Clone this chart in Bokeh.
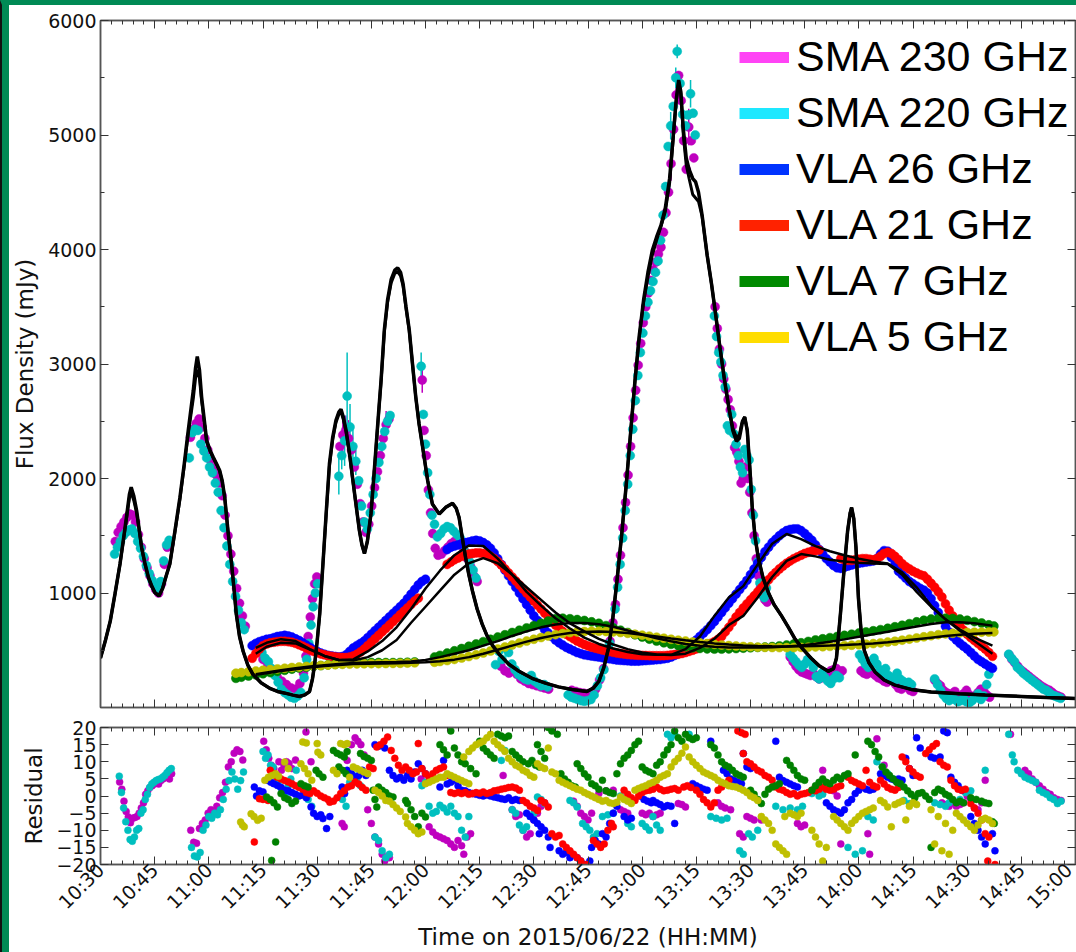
import math
from bokeh.plotting import figure
from bokeh.models import Range1d, FixedTicker, LinearAxis, Legend, LegendItem, CustomLabelingPolicy
from bokeh.layouts import column
from bokeh.embed import file_html
from bokeh.resources import INLINE

# ---------------- axis definitions (minutes after 10:30) ----------------
x_tick_pos = [0, 15, 30, 45, 60, 75, 90, 105, 120, 135, 150, 165, 180, 195, 210, 225, 240, 255, 270]
x_tick_labels = ["10:30", "10:45", "11:00", "11:15", "11:30", "11:45", "12:00", "12:15", "12:30",
                 "12:45", "13:00", "13:15", "13:30", "13:45", "14:00", "14:15", "14:30", "14:45", "15:00"]
flux_ticks = [1000, 2000, 3000, 4000, 5000, 6000]
flux_minor = [500, 1500, 2500, 3500, 4500, 5500]
res_ticks = [-20, -15, -10, -5, 0, 5, 10, 15, 20]
res_tick_labels = ["\u221220", "\u221215", "\u221210", "\u22125", "0", "5", "10", "15", "20"]
legend_labels = ["SMA 230 GHz", "SMA 220 GHz", "VLA 26 GHz", "VLA 21 GHz", "VLA 7 GHz", "VLA 5 GHz"]

# ---------------- SMA data (time [min], flux [mJy]) ----------------
sma230 = [
(4.1,1450),(4.9,1530),(5.7,1580),(6.5,1620),(7.3,1660),(8.1,1690),(8.9,1680),(9.7,1620),(10.5,1510),(11.3,1400),
(12.1,1300),(12.9,1220),(13.7,1150),(14.5,1080),(15.3,1030),(16.1,1000),(16.9,1080),(17.7,1250),(18.5,1400),(19.2,1430),
(24.9,2360),(25.7,2430),(26.5,2480),(27.3,2520),(28.1,2450),(28.9,2350),(29.7,2250),(30.5,2160),(31.3,2090),(32.1,2030),
(32.9,1960),(33.7,1850),(34.5,1680),(35.3,1500),(36.1,1340),(36.9,1190),(37.7,1040),(38.5,910),(39.3,800),(40.1,710),
(45.0,420),(46.3,380),(47.6,330),(48.9,270),(50.2,230),(51.5,200),(52.8,170),(54.1,160),(55.2,210),(56.2,300),
(56.9,450),(57.5,620),(58.1,790),(58.7,950),(59.3,1080),(59.9,1140),
(66.3,2280),(67.1,2380),(67.9,2420),(68.7,2350),(69.5,2250),(70.3,2100),(71.1,1950),(71.9,1780),(72.7,1620),(73.5,1530),
(74.3,1600),(75.1,1760),(75.9,1920),(76.7,2060),(77.5,2200),(78.3,2350),(79.1,2470),(79.9,2520),
(89.1,2860),(89.6,2420),(90.2,2200),(90.8,1900),(91.4,1700),(92.0,1520),(92.7,1390),(93.5,1330),(94.4,1340),(95.3,1370),
(96.2,1400),(97.1,1430),(98.0,1450),(98.9,1450),(99.8,1420),(100.7,1370),(101.6,1300),(102.5,1230),(103.4,1150),(104.3,1100),
(110.9,360),(112.0,320),(113.1,300),(114.2,330),(115.3,290),(116.4,250),(117.5,230),(118.6,210),(119.7,200),(120.8,190),
(121.9,180),(123.0,170),(124.1,160),(130.5,150),(131.6,140),(132.7,130),(133.8,125),(134.9,120),(136.0,130),(137.1,160),
(138.2,240),(139.3,340),(140.3,470),(141.1,580),(141.9,740),(142.6,900),(143.3,1120),
(144.0,1330),(144.7,1570),(145.4,1790),(146.1,2030),(146.8,2280),(147.5,2530),(148.2,2770),(148.9,2990),(149.6,3180),(150.3,3360),
(151.0,3500),(151.7,3620),(152.4,3730),(153.1,3820),(153.8,3890),(154.5,3960),(155.2,4020),(155.9,4150),(156.6,4320),(157.3,4500),
(158.0,4750),(158.7,5050),(159.4,5350),(160.1,5520),(160.8,5300),(161.5,4950),(162.2,4700),(162.9,5070),(163.6,4950),(164.3,4800),
(170.2,3500),(170.8,3310),(171.4,3130),(172.0,3000),(172.6,2870),(173.2,2780),(173.8,2690),(174.4,2600),(175.0,2460),(175.6,2270),
(176.2,2230),(176.8,2150),(177.4,1960),(178.0,2000),(178.6,2100),(179.2,2000),(179.8,1880),(180.4,1700),(181.0,1500),(181.6,1300),
(182.2,1150),(182.8,1050),(183.4,980),(184.0,940),(184.6,920),
(191.0,440),(191.8,400),(192.6,360),(193.4,330),(194.2,310),(195.0,300),(195.8,290),(196.6,280),(197.4,300),(198.2,270),
(199.0,250),(199.8,260),(200.6,280),(201.4,300),(202.2,320),(203.0,330),(203.8,340),(204.6,300),(205.4,320),
(210.6,320),(211.4,300),(212.2,290),(213.0,330),(213.8,300),(214.6,280),(215.4,260),(216.2,250),(217.0,230),(217.8,220),
(218.6,250),(219.4,240),(220.2,200),(221.0,170),(221.8,160),(222.6,200),(223.4,180),(224.2,150),(225.0,140),
(231.0,240),(231.8,210),(232.6,190),(233.4,150),(234.2,130),(235.0,120),(235.8,110),(236.6,140),(237.4,100),(238.2,90),
(239.0,120),(239.8,150),(240.6,110),(241.4,80),(242.2,100),(243.0,130),(243.8,160),(244.6,140),(245.4,110),(246.2,90),
(251.6,460),(252.4,420),(253.2,390),(254.0,360),(254.8,330),(255.6,310),(256.4,290),(257.2,270),(258.0,250),(258.8,230),
(259.6,210),(260.4,190),(261.2,175),(262.0,160),(262.8,150),(263.6,130),(264.4,110),(265.2,100),(266.0,90),
]
sma220 = [
(3.9,1340),(4.7,1400),(5.5,1450),(6.3,1500),(7.1,1530),(7.9,1550),(8.7,1560),(9.5,1520),(10.3,1450),(11.1,1390),
(11.9,1320),(12.7,1240),(13.5,1170),(14.3,1110),(15.1,1060),(15.9,1040),(16.7,1100),(17.5,1280),(18.3,1420),(19.0,1460),
(24.6,2180),(25.4,2400),(26.2,2430),(27.0,2420),(27.8,2300),(28.6,2240),(29.4,2180),(30.2,2100),(31.0,2050),(31.8,1960),
(32.6,1880),(33.4,1720),(34.2,1570),(35.0,1410),(35.8,1250),(36.6,1100),(37.4,970),(38.2,850),(39.0,740),(39.8,680),
(44.7,480),(45.6,430),(46.5,400),(47.4,340),(48.3,280),(49.2,220),(50.1,160),(51.0,130),(51.9,110),(52.8,90),
(53.7,80),(54.6,100),(55.5,130),(56.4,260),(57.1,420),(57.7,560),(58.3,720),(58.9,880),(59.5,1000),(60.1,1080),
(66.0,2020),(66.8,2200),(67.6,2330),(68.3,2720),(69.1,2450),(69.9,2280),(70.7,2150),(71.5,1980),(72.3,1760),(73.1,1620),
(73.9,1560),(74.7,1700),(75.5,1860),(76.3,2000),(77.1,2140),(77.9,2280),(78.7,2410),(79.5,2500),(80.2,2550),
(88.8,2980),(89.4,2560),(90.0,2300),(90.6,2050),(91.2,1860),(91.8,1680),(92.5,1600),(93.3,1490),(94.2,1520),(95.1,1560),
(96.0,1580),(96.9,1570),(97.8,1540),(98.7,1510),(99.6,1480),(100.5,1420),(101.4,1350),(102.3,1270),(103.2,1200),(104.0,1130),
(109.4,374),(110.3,490),(111.2,420),(112.1,520),(113.0,480),(113.9,380),(114.8,330),(115.7,290),(116.6,270),(117.5,250),
(118.4,240),(119.3,280),(120.2,230),(121.1,210),(122.0,190),(122.9,200),(123.8,180),(129.5,110),(130.4,90),(131.3,80),
(132.2,70),(133.1,60),(134.0,55),(134.9,60),(135.8,70),(136.7,110),(137.6,190),(138.5,260),(139.4,330),(140.2,430),
(141.0,560),(141.8,700),(142.5,860),(143.2,1050),
(143.9,1250),(144.6,1480),(145.3,1720),(146.0,1950),(146.7,2200),(147.4,2430),(148.1,2680),(148.8,2900),(149.5,3100),(150.2,3270),
(150.9,3420),(151.6,3540),(152.3,3640),(153.0,3720),(153.7,3800),(154.4,3900),(155.1,4080),(155.8,4300),(156.5,4550),(157.2,4900),
(157.9,5080),(158.6,5250),(159.3,5500),(159.7,5730),(160.5,5450),(161.2,5180),(162.0,5080),(162.7,5175),(163.4,5360),(164.1,5190),(164.7,5000),
(170.0,3420),(170.6,3240),(171.2,3100),(171.8,3018),(172.4,2900),(173.0,2800),(173.6,2460),(174.2,2420),(174.8,2560),(175.4,2390),
(176.0,2300),(176.6,2200),(177.2,2100),(177.8,2050),(178.4,2254),(179.0,2200),(179.6,2162),(180.2,1904),(180.8,1680),(181.4,1456),
(182.0,1272),(182.6,1088),(183.2,1000),(183.8,960),(184.4,1044),
(191.0,465),(191.8,430),(192.6,400),(193.4,370),(194.2,350),(195.0,380),(195.8,420),(196.6,400),(197.4,350),(198.2,270),
(199.0,250),(199.8,300),(200.6,260),(201.4,230),(202.2,210),(203.0,250),(203.8,280),(204.6,260),
(210.2,460),(211.0,420),(211.8,380),(212.6,350),(213.4,400),(214.2,430),(215.0,380),(215.8,330),(216.6,300),(217.4,340),
(218.2,280),(219.0,260),(219.8,230),(220.6,300),(221.4,250),(222.2,230),(223.0,210),(223.8,220),(224.6,200),
(231.0,250),(231.8,200),(232.6,150),(233.4,110),(234.2,80),(235.0,60),(235.8,90),(236.6,70),(237.4,50),(238.2,60),
(239.0,80),(239.8,50),(240.6,40),(241.4,60),(242.2,90),(243.0,120),(243.8,70),(244.6,100),(245.4,200),(246.0,290),
(251.5,465),(252.3,430),(253.1,400),(253.9,350),(254.7,330),(255.5,300),(256.3,280),(257.1,260),(257.9,240),(258.7,220),
(259.5,200),(260.3,180),(261.1,160),(261.9,150),(262.7,130),(263.5,110),(264.3,100),(265.1,90),(265.9,80),
]
# visible error bars (time, flux, error)
sma230_err = [(67.1,2380,150),(67.9,2420,130),(68.7,2350,160),(79.1,2470,120),(89.1,2860,110),
              (158.0,4750,150),(159.4,5350,150),(162.9,5070,160)]
sma220_err = [(66.0,2020,160),(66.8,2200,120),(67.6,2330,220),(68.3,2720,380),(69.1,2450,200),(69.9,2280,150),
              (70.7,2150,120),(77.9,2280,130),(88.8,2980,120),(157.9,5080,120),(159.3,5500,90),(159.7,5730,60),(163.4,5360,120)]

# ---------------- VLA data ----------------
vla26 = [
(42,540),(43,560),(44,575),(45,585),(46,595),(47,600),(48,610),(49,620),(50,625),(51,630),(52,625),(53,615),(54,600),
(55,585),(56,565),(57,545),(58,525),(59,505),(60,490),(61,475),(62,465),(63,455),(64,450),(65,445),(66,440),(67,445),
(68,460),(69,490),(70,520),(71,540),(72,560),(73,580),(74,610),(75,640),(76,670),(77,700),(78,730),(79,760),(80,790),
(81,820),(82,850),(83,880),(84,910),(85,950),(86,990),(87,1030),(88,1070),(89,1100),(90,1120),
(96,1380),(97,1400),(98,1410),(99,1420),(100,1430),(101,1440),(102,1445),(103,1455),(104,1460),(105,1455),(106,1440),
(107,1420),(108,1390),(109,1350),(110,1300),(111,1250),(112,1200),(113,1150),(114,1100),(115,1050),(116,1000),(117,950),
(118,900),(119,850),(120,800),(121,760),(122,720),(123,680),(124,650),(125,620),(126,590),(127,565),(128,545),(129,525),
(130,510),(131,495),(132,480),(133,470),(134,460),(135,455),(136,450),(137,445),(138,440),(139,435),(140,430),(141,425),
(142,420),(143,415),(144,412),(145,410),(146,408),(147,405),(148,405),(149,405),(150,408),(151,410),(152,412),(153,415),
(154,418),(155,420),(156,425),(157,430),(158,440),(159,455),(160,470),(161,490),(162,515),(163,540),(164,565),(165,590),
(166,620),(167,650),(168,680),(169,715),(170,750),(171,790),(172,830),(173,870),(174,910),(175,950),(176,990),(177,1030),
(178,1070),(179,1110),(180,1160),(181,1210),(182,1260),(183,1310),(184,1360),(185,1400),(186,1440),(187,1470),(188,1500),
(189,1525),(190,1545),(191,1555),(192,1560),(193,1560),(194,1545),(195,1520),(196,1490),(197,1460),(198,1420),(199,1380),
(200,1340),(201,1300),(202,1270),(203,1240),(204,1220),(205,1215),(206,1225),(207,1235),(208,1245),(209,1255),(210,1260),
(211,1265),(212,1270),(213,1275),(214,1280),(215,1300),(216,1340),(217,1370),(218,1365),(219,1310),(220,1250),(221,1190),
(222,1160),(223,1130),(224,1100),(225,1080),(226,1060),(227,1040),(228,1025),(229,1000),(230,950),(231,890),(232,830),
(233,770),(234,710),(235,660),(236,620),(237,590),(238,560),(239,535),(240,510),(241,480),(242,450),(243,420),(244,400),
(245,380),(246,360),(247,342),
]
vla21 = [
(42,430),(43,470),(44,510),(45,540),(46,555),(47,565),(48,570),(49,575),(50,578),(51,578),(52,575),(53,570),(54,560),
(55,548),(56,535),(57,520),(58,505),(59,490),(60,478),(61,468),(62,460),(63,452),(64,446),(65,442),(66,438),(67,436),
(68,436),(69,440),(70,450),(71,465),(72,485),(73,510),(74,540),(75,570),(76,600),(77,630),(78,660),(79,690),(80,720),
(81,750),(82,780),(83,810),(84,840),(85,870),(86,900),(87,930),(88,955),
(96,1250),(97,1270),(98,1290),(99,1305),(100,1320),(101,1330),(102,1340),(103,1345),(104,1350),(105,1350),(106,1345),
(107,1335),(108,1320),(109,1300),(110,1275),(111,1245),(112,1210),(113,1175),(114,1140),(115,1105),(116,1070),(117,1035),
(118,1000),(119,965),(120,930),(121,895),(122,860),(123,825),(124,790),(125,755),(126,720),(127,690),(128,665),(129,640),
(130,620),(131,600),(132,580),(133,565),(134,550),(135,538),(136,527),(137,518),(138,510),(139,502),(140,495),(141,488),
(142,482),(143,476),(144,471),(145,467),(146,463),(147,460),(148,458),(149,456),(150,455),(151,454),(152,453),(153,452),
(154,452),(155,452),(156,453),(157,455),(158,458),(159,462),(160,466),(161,472),(162,480),(163,490),(164,500),(165,512),
(166,525),(167,540),(168,555),(169,560),(170,575),(171,595),(172,620),(173,660),(174,700),(175,745),(176,790),(177,830),
(178,870),(179,905),(180,940),(181,975),(182,1010),(183,1045),(184,1080),(185,1115),(186,1150),(187,1180),(188,1210),
(189,1235),(190,1260),(191,1280),(192,1300),(193,1315),(194,1330),(195,1345),(196,1355),(197,1365),(198,1370),(199,1375),
(205,1300),(206,1290),(207,1285),(208,1285),(209,1290),(210,1295),(211,1300),(212,1300),(213,1295),(214,1290),(215,1300),
(216,1320),(217,1345),(218,1355),(219,1345),(220,1320),(221,1290),(222,1255),(223,1230),(224,1210),(225,1190),(226,1175),
(227,1160),(228,1150),(229,1120),(230,1085),(231,1050),(232,1010),(233,965),(234,905),(235,850),(236,800),(237,755),
(238,715),(239,675),(240,640),(241,610),(242,585),(243,560),(244,535),(245,510),(246,480),(247,447),
]
vla7 = [
(37.5,255),(39,265),(41,275),(43,285),(45,295),(47,305),(49,315),(51,325),(53,335),(55,345),(57,352),(59,360),(61,366),
(63,372),(65,378),(67,383),(69,387),(71,390),(73,392),(75,393),(77,393),(79,392),(81,392),(83,393),(85,395),(87,398),
(92.5,440),(94,455),(96,475),(98,495),(100,515),(102,535),(104,555),(106,575),(108,595),(110,615),(112,635),(114,655),
(116,675),(118,695),(120,715),(122,735),(124,755),(126,775),(128,780),(130,775),(132,768),(134,760),(136,748),(138,735),
(140,715),(142,695),(144,675),(146,655),(148,635),(150,615),(152,597),(154,580),(156,565),(158,552),(160,540),(162,530),
(164,522),(166,516),(168,512),(170,510),(172,510),(174,512),(176,515),(178,518),(180,522),(182,525),(184,528),(186,532),
(188,538),(190,545),(192,555),(194,565),(196,577),(198,590),(200,600),(202,610),(204,620),(206,630),(208,640),(210,650),
(212,660),(214,670),(216,680),(218,692),(220,705),(222,718),(224,732),(226,748),(228,762),(230,772),(232,778),(234,780),
(236,778),(238,772),(240,762),(242,750),(244,738),(246,722),(247.4,712),
]
vla5 = [
(37.5,300),(39,305),(41,312),(43,318),(45,325),(47,331),(49,337),(51,343),(53,349),(55,354),(57,359),(59,363),(61,367),
(63,371),(65,374),(67,377),(69,379),(71,381),(73,382),(75,383),(77,383),(79,384),(81,385),(83,386),(85,388),(87,390),
(92.5,395),(94,402),(96,410),(98,420),(100,432),(102,445),(104,460),(106,476),(108,493),(110,510),(112,528),(114,546),
(116,563),(118,580),(120,596),(122,611),(124,624),(126,636),(128,646),(130,654),(132,660),(134,664),(136,666),(138,666),
(140,664),(142,660),(144,655),(146,648),(148,640),(150,632),(152,623),(154,614),(156,605),(158,596),(160,588),(162,580),
(164,572),(166,565),(168,558),(170,552),(172,546),(174,541),(176,537),(178,533),(180,530),(182,527),(184,525),(186,524),
(188,523),(190,523),(192,524),(194,525),(196,527),(198,529),(200,531),(202,534),(204,537),(206,540),(208,544),(210,548),
(212,553),(214,558),(216,564),(218,571),(220,579),(222,588),(224,597),(226,607),(228,617),(230,627),(232,636),(234,643),
(236,648),(238,652),(240,655),(242,657),(244,658),(246,659),(247.4,660),
]

# ---------------- model curves ----------------
# SMA models: (time, 230 GHz model, 220 GHz model)
sma_fit = [
(0,432,432),(1.4,590,590),(2.7,754,754),(4,990,990),(5.4,1254,1254),(6.4,1480,1470),(7.3,1690,1670),(8.0,1860,1830),
(8.5,1924,1880),(9.2,1850,1810),(10.0,1720,1700),(10.7,1560,1550),(11.4,1397,1390),(12.3,1260,1255),(13.3,1134,1130),
(14.2,1060,1058),(15.1,1003,1000),(16.2,975,975),(17.2,1040,1040),(18.2,1150,1150),(19.2,1254,1254),(20.6,1540,1530),
(22.0,1836,1820),(23.2,2130,2110),(24.3,2420,2390),(25.7,2770,2700),(26.3,2960,2870),(26.8,3065,2950),(27.4,2950,2880),
(28.0,2713,2680),(29.4,2333,2320),(30.3,2250,2240),(31.2,2187,2180),(32.1,2130,2125),(33.0,2070,2065),(33.7,1980,1975),
(34.4,1836,1830),(35.3,1544,1540),(36.3,1254,1250),(37.0,1030,1030),(37.6,816,816),(38.5,620,620),(39.5,491,491),
(40.8,370,370),(42.2,290,290),(44.5,215,215),(46.9,167,167),(49.0,140,140),(51.4,123,123),(53.3,108,108),(55.1,96,96),
(56.6,110,110),(57.9,140,140),(58.7,250,250),(59.3,377,377),(60.0,580,580),(60.7,816,816),(61.6,1254,1254),(62.5,1700,1690),
(63.4,2131,2110),(64.3,2360,2340),(65.2,2509,2490),(66.0,2580,2560),(66.6,2605,2585),(67.3,2530,2510),(68.0,2421,2410),
(69.0,2210,2200),(69.9,1982,1975),(70.8,1760,1760),(71.7,1544,1544),(72.4,1420,1420),(73.1,1345,1345),(73.9,1450,1450),
(74.9,1693,1693),(75.6,1980,1975),(76.3,2275,2265),(77.0,2570,2560),(77.7,2860,2850),(78.6,3298,3280),(79.5,3560,3540),
(80.5,3740,3710),(81.5,3820,3790),(82.3,3840,3805),(83.1,3800,3770),(83.8,3700,3680),(84.6,3500,3490),(85.5,3298,3290),
(86.4,3000,3000),(87.3,2713,2713),(88.2,2480,2480),(89.2,2275,2275),(90.6,1982,1982),(91.9,1778,1778),(93.8,1690,1690),
(95.6,1748,1748),(97.5,1783,1783),(98.5,1740,1740),(99.3,1660,1660),(100.2,1480,1480),(101.1,1310,1310),(102.0,1160,1160),
(103.0,1018,1018),(104.3,860,860),(105.7,728,728),(107.0,630,630),(108.6,540,540),(110.4,465,465),(113.0,380,380),
(115.9,316,316),(119.5,255,255),(123.2,213,213),(126.8,180,180),(130.6,158,158),(134.7,140,140),(136.5,170,170),
(138.0,228,228),(139.4,350,350),(140.7,520,520),(141.8,760,760),(143.0,1100,1100),(144.3,1500,1500),(145.6,1950,1950),
(146.8,2400,2400),(148.0,2850,2850),(149.2,3250,3230),(150.4,3560,3540),(151.6,3800,3760),(152.8,3990,3950),(154.0,4110,4080),
(155.2,4210,4200),(156.4,4360,4330),(157.6,4620,4580),(158.5,4950,4930),(159.4,5300,5280),(160.1,5480,5470),(160.7,5380,5360),
(161.4,5050,5000),(162.2,4800,4740),(163.0,4700,4620),(164.0,4620,4480),(164.8,4590,4450),(165.6,4500,4420),(166.6,4300,4290),
(168.0,3950,3950),(169.2,3700,3700),(170.4,3420,3420),(171.6,3130,3130),(172.8,2860,2860),(174.0,2620,2620),(175.1,2420,2440),
(176.1,2325,2360),(176.9,2350,2380),(177.7,2480,2500),(178.4,2535,2540),(179.1,2420,2420),(179.8,2100,2100),(180.5,1740,1740),
(181.3,1480,1480),(182.2,1300,1300),(183.5,1130,1130),(185.0,1000,1000),(186.5,900,900),(188.6,800,800),(190.5,700,700),
(192.2,605,605),(194.5,510,510),(196.8,430,430),(199.0,365,365),(201.5,316,316),(203.0,340,340),(203.8,430,430),
(204.9,816,816),(205.9,1200,1200),(206.9,1544,1544),(207.6,1700,1700),(208.0,1746,1746),(208.6,1650,1650),(209.2,1400,1400),
(209.9,950,950),(210.6,680,680),(211.5,500,500),(212.8,390,390),(214.5,310,310),(217.0,240,240),(220.0,195,195),
(224.5,158,158),(230.0,135,135),(238.0,120,120),(245.0,110,110),(255.0,97,97),(262.0,88,88),(270.0,79,79),
]
# VLA models: (time, 26 GHz, 21 GHz, 7 GHz, 5 GHz)
vla_fit = [
(43,520,470,290,285),(46,565,530,305,300),(50,597,565,325,318),(54,580,560,343,335),(58,510,505,358,350),
(62,450,450,370,362),(66,415,415,380,372),(70,420,410,388,379),(74,490,440,393,383),(78,580,500,396,385),
(82,700,590,398,387),(86,860,740,402,390),(90,1040,880,415,395),(94,1195,1020,440,403),(98,1330,1160,470,418),
(102,1415,1260,500,440),(106,1410,1305,540,470),(110,1300,1260,580,505),(114,1160,1160,625,540),(118,1010,1050,665,575),
(122,890,940,700,607),(126,780,830,725,632),(130,690,735,738,650),(134,610,665,738,660),(138,555,600,728,663),
(142,515,550,705,660),(146,485,510,672,650),(150,465,480,638,636),(154,460,462,605,620),(158,460,458,578,603),
(162,510,470,555,587),(166,620,520,540,572),(170,800,600,530,560),(174,960,720,525,550),(178,1060,800,523,542),
(182,1250,960,523,537),(186,1430,1140,526,534),(190,1515,1280,532,533),(194,1470,1340,542,534),(198,1410,1320,556,537),
(202,1365,1290,574,541),(206,1330,1275,595,546),(210,1300,1265,617,552),(214,1275,1258,640,560),(218,1258,1254,662,570),
(222,1180,1160,685,582),(226,1050,1010,708,596),(230,890,880,730,610),(234,770,770,745,624),(238,670,680,745,636),
(242,580,610,735,644),(247,470,540,715,650),
]

# ---------------- residuals (time, percent) ----------------
res230 = [
(5.3,4.1),(5.9,2.0),(6.5,-1.5),(7.1,-4.5),(7.7,-6.1),(8.3,-7.8),(8.9,-6.5),(9.5,-6.3),(10.1,-6.0),(10.7,-5.0),(11.3,-3.5),
(11.9,-2.0),(12.5,0.5),(13.1,1.5),(13.7,2.5),(14.3,3.0),(14.9,3.5),(15.5,4.0),(16.1,3.5),(16.7,4.5),(17.3,5.0),(17.9,5.5),
(18.5,6.0),(19.1,5.0),(19.7,6.5),
(25.0,-10.0),(25.8,-13.5),(26.6,-13.8),(27.4,-9.5),(28.2,-8.0),(29.0,-7.0),(29.8,-5.0),(30.6,-4.0),(31.4,-4.5),(32.2,-3.0),
(33.0,-0.5),(33.8,1.0),(34.6,4.0),(35.4,8.5),(36.2,10.0),(37.0,12.5),(37.8,13.5),(38.6,13.0),(39.4,10.5),
(45.2,16.0),(45.9,13.5),(46.6,11.0),(47.3,9.0),(48.0,8.0),(48.7,5.5),(49.4,10.0),(50.1,7.5),(50.8,9.0),(51.5,10.0),(52.2,9.5),
(53.0,8.0),(54.0,10.5),(56.9,18.7),(58.3,10.0),
(66.9,-8.0),(67.5,-9.0),(68.3,10.4),(69.5,15.0),(70.5,17.0),(71.3,16.0),(72.1,15.0),(73.0,12.0),(74.0,-4.0),(75.0,-8.0),
(76.0,-12.0),(77.0,-14.0),(78.0,-17.0),(78.7,-19.0),(80.0,-18.0),
(88.8,5.0),(91.0,-9.0),(92.0,-10.5),(93.0,-11.5),(94.0,-12.0),(95.0,-12.5),(96.0,-13.0),(97.0,-14.0),(98.0,-15.0),(99.0,-13.0),
(100.0,-14.5),(100.6,-17.0),(101.5,-12.0),(102.5,-11.0),
(111.5,6.0),(114.0,-4.0),(115.0,-6.0),(116.0,-5.5),(117.0,-10.0),(118.0,-12.0),(119.0,-11.0),(120.0,-7.0),(121.0,-5.0),
(122.0,-3.0),(123.0,-2.0),(131.0,-1.5),(132.0,-3.0),(133.0,-5.0),(134.0,-6.0),(135.0,-7.0),(136.0,-5.0),(138.0,0.7),
(140.0,1.5),(142.0,1.7),
(144.0,-4.0),(145.0,-4.5),(146.0,-5.0),(150.0,-5.0),(151.0,-5.5),(152.0,-5.0),(153.0,-6.0),(154.0,-5.5),(155.0,-5.0),
(160.0,-2.2),(161.0,-2.5),(162.0,-3.2),
(171.0,-2.0),(172.0,-3.0),(173.0,-3.5),(174.5,-4.0),(177.0,-11.0),(178.0,-12.0),(179.0,-6.0),(180.0,-6.5),(181.0,-7.0),(183.0,-7.0),
(193.0,-8.0),(194.0,-9.0),(195.0,-8.5),(200.0,7.5),(203.0,1.5),(204.0,0.0),(205.0,-14.0),(212.5,-11.0),(213.0,-17.0),
(215.0,16.7),(217.0,9.0),
(233.0,-2.0),(234.0,-2.5),(235.0,-3.0),(236.0,-2.0),(237.0,-3.0),(238.0,-2.5),(239.0,-2.0),(240.0,0.0),(241.0,-1.0),
(242.0,-3.5),(243.0,-4.0),(244.0,-2.0),(245.0,4.6),
(252.0,18.0),(256.0,7.5),(257.0,6.5),(258.0,5.0),(259.0,4.0),(260.0,3.0),(261.0,2.0),(262.0,1.0),(263.0,0.5),(264.0,-0.5),
(265.0,-1.0),(266.0,-1.3),
]
res220 = [
(5.2,5.8),(5.8,1.0),(6.4,-3.5),(7.0,-7.5),(7.6,-10.0),(8.2,-12.7),(8.8,-13.2),(9.4,-12.0),(10.0,-10.0),(10.6,-9.5),(11.2,-5.0),
(11.8,-4.0),(12.4,-1.0),(13.0,0.5),(13.6,2.5),(14.2,3.5),(14.8,4.0),(15.4,4.5),(16.0,4.8),(16.6,5.0),(17.2,5.5),(17.8,6.0),
(18.4,6.8),(19.0,7.5),(19.6,8.0),
(25.2,-15.0),(26.0,-17.5),(26.8,-17.8),(27.6,-16.5),(28.4,-10.0),(29.2,-8.5),(30.0,-6.0),(30.8,-6.5),(31.6,-5.0),(32.4,-5.5),
(33.2,-4.0),(34.0,-1.0),(34.8,2.0),(35.6,4.5),(36.4,7.0),(37.2,5.0),(38.0,2.0),(38.8,4.5),(39.6,7.0),
(45.0,13.0),(45.7,11.0),(46.4,12.0),(47.1,9.0),(47.8,8.5),(48.5,6.0),(49.2,4.0),(49.9,2.5),(50.6,1.0),(51.3,0.7),(52.0,3.0),
(52.7,5.0),(54.2,7.5),(57.5,-1.0),(58.5,-3.0),
(67.0,-1.0),(68.0,-3.0),(69.0,4.0),(70.0,6.0),(71.0,5.0),(72.0,3.0),(76.0,-12.0),(77.0,-13.0),(78.0,-16.0),(79.0,-18.0),(80.0,-17.0),
(89.0,3.0),(90.0,4.0),(91.0,-3.0),(92.0,-5.0),(93.0,-4.5),(94.0,-2.7),(95.0,-3.5),(96.0,-4.7),(97.0,-3.0),(98.0,-5.0),
(99.0,-6.0),(100.0,-10.0),(101.0,-12.0),(102.0,-6.0),
(111.0,10.4),(112.0,13.3),(114.0,-4.0),(115.0,-5.0),(116.0,-8.5),(117.0,-10.0),(118.0,-9.0),(119.0,-6.0),(120.0,-5.0),
(121.0,-0.3),(122.0,-1.0),(123.0,-2.2),(130.0,-1.3),(131.0,-2.0),(132.0,-3.2),(133.5,-8.0),(134.5,-9.0),(135.5,-10.0),
(136.5,-12.0),(137.5,-11.0),(139.0,-6.0),(140.5,-5.5),(142.0,-5.0),
(144.0,0.0),(146.0,-8.0),(147.0,-9.0),(150.0,-8.0),(151.0,-9.0),(152.0,-10.0),(153.0,-6.0),(154.0,-8.5),(155.0,-10.0),
(157.0,18.0),(158.0,17.0),(159.0,18.0),(163.0,18.0),
(169.0,-6.0),(170.5,-6.5),(172.0,-7.0),(173.5,-6.5),(177.0,-16.0),(178.0,-17.0),(179.5,-11.0),(180.5,-12.0),(182.0,-10.0),
(187.0,-3.0),(189.0,-4.0),(191.0,-3.5),(193.0,-4.0),(194.4,-3.0),(197.0,0.7),(199.0,0.0),(200.0,0.5),(207.0,-15.0),
(209.0,-17.0),(211.0,-16.0),(212.5,-6.0),(214.0,-7.0),(215.0,10.0),(216.5,8.5),(218.0,6.5),(219.5,5.0),(221.0,3.6),
(222.5,-1.3),(224.0,-2.2),
(231.0,-2.0),(232.5,-2.5),(234.0,-3.0),(235.0,-2.0),(238.0,-1.0),(239.5,1.0),(241.0,1.5),(245.0,7.5),
(251.5,18.0),(252.5,12.0),(253.0,10.0),(254.0,7.5),(255.0,6.5),(256.0,5.5),(257.0,5.0),(258.0,4.5),(259.0,4.0),(260.0,1.7),
(261.0,1.0),(262.0,0.5),(263.0,-0.5),(264.0,-1.0),(265.0,-2.2),(266.0,-1.5),
]
res26 = [
(42.6,2.6),(43.2,0.0),(44.0,1.5),(45.0,1.2),(46.4,4.5),(47.2,4.0),(48.0,3.6),(49.0,3.1),(50.0,2.5),(51.0,1.7),(52.0,1.5),
(53.0,1.0),(54.0,0.5),(55.0,0.0),(56.0,0.2),(57.0,-0.5),(58.3,-3.2),(59.0,-5.0),(60.0,-6.0),(61.0,-5.5),(61.6,-6.6),
(62.6,-9.5),(63.5,-6.0),(66.9,2.6),(67.6,0.7),(68.3,7.5),(69.5,6.5),(70.5,5.5),(71.5,6.0),(72.5,7.5),(73.5,6.0),(76.0,15.0),
(77.0,14.5),(78.0,15.0),(78.7,14.0),(80.0,7.5),(81.0,6.0),(82.0,5.0),(83.0,5.5),(84.0,4.6),(85.0,6.0),(86.0,5.0),(87.0,7.0),
(88.0,9.4),(89.0,8.0),(90.0,6.5),(94.0,2.6),(95.0,10.4),(96.0,3.5),(97.0,4.0),(98.0,4.6),(99.0,3.0),(100.0,1.7),(101.0,1.5),
(102.0,1.0),(103.0,0.7),(104.0,0.5),(105.0,0.2),(106.0,0.0),(107.0,0.3),(108.0,0.0),(109.0,-0.3),(110.0,-0.5),(111.0,-0.8),
(112.0,-1.0),(113.0,-0.5),(114.0,-1.3),(115.0,-1.0),(116.0,-1.3),(118.0,-5.0),(119.0,-6.0),(120.0,-7.0),(121.0,-8.0),
(121.5,-11.0),(122.0,-9.0),(123.0,-10.0),(124.0,-12.0),(124.5,-15.0),(127.0,-16.0),(128.0,-17.0),(129.0,-16.5),(130.0,-18.0),
(132.0,-18.0),(133.0,-19.0),(134.0,-20.0),(135.5,-19.0),(136.0,-15.0),(137.0,-13.0),(138.0,-14.0),(139.0,-11.0),(140.0,-12.0),
(141.0,-8.0),(142.0,-5.0),(143.0,-3.0),(145.0,-6.0),(146.0,-7.0),(147.0,-6.5),(149.5,0.0),(150.5,-1.0),(151.5,-1.5),
(152.5,-2.0),(153.0,-1.3),(154.0,-2.0),(155.0,-2.5),(156.0,-3.2),(157.0,-2.8),(158.0,-3.0),(159.0,-8.0),(164.0,3.6),
(165.0,3.0),(166.0,2.5),(167.0,2.0),(168.0,1.7),(169.0,16.0),(172.5,7.5),(173.5,6.5),(174.5,5.0),(175.5,4.5),(176.5,4.0),
(177.5,3.6),(178.0,12.4),(179.0,8.5),(180.0,8.0),(187.0,16.0),(188.0,5.5),(189.0,4.5),(190.0,4.0),(191.0,3.5),(192.0,3.0),
(193.0,2.6),(201.0,-2.0),(202.0,-3.0),(203.0,-4.0),(204.0,-4.5),(205.0,-5.0),(206.0,-4.0),(207.0,-2.0),(208.0,-1.0),
(209.0,0.7),(210.0,1.7),(211.0,2.6),(212.0,2.0),(213.0,1.7),(214.0,2.0),(216.0,6.5),(217.0,6.0),(218.0,5.5),(219.0,5.0),
(220.0,4.6),(221.0,5.0),(222.0,4.6),(223.0,11.0),(224.0,8.0),(225.0,6.0),(226.0,17.0),(227.0,14.0),(230.0,11.4),(231.0,11.0),
(232.5,11.4),(233.5,19.0),(234.5,18.5),(235.5,5.5),(236.5,4.0),(237.5,3.0),(238.5,1.7),(241.0,-6.0),(242.0,-8.0),(243.0,-10.0),
(244.0,-12.0),(245.0,-14.0),(247.0,-11.0),(247.7,-16.0),
]
res21 = [
(42.6,-13.4),(44.0,-0.8),(45.0,-1.0),(46.4,-1.3),(47.0,7.5),(48.0,6.5),(49.0,5.5),(50.0,5.0),(51.0,4.5),(52.0,4.1),(53.0,3.6),
(54.0,3.0),(55.0,2.5),(56.0,2.0),(57.0,1.0),(58.0,0.7),(59.0,1.5),(60.0,0.8),(61.0,0.0),(62.0,-0.5),(63.0,-1.0),(63.5,-1.8),
(64.5,-1.5),(65.5,-0.5),(66.5,0.7),(67.5,1.5),(68.5,2.6),(69.5,3.0),(70.5,4.1),(71.5,3.5),(72.5,2.5),(73.5,1.7),(74.5,8.5),
(75.5,8.0),(76.5,14.3),(77.5,15.0),(78.5,16.0),(79.5,17.2),(80.5,13.3),(81.5,11.0),(82.5,9.0),(83.5,7.5),(84.5,8.5),(85.5,7.5),
(86.5,6.5),(87.5,7.0),(88.0,15.3),(89.0,8.0),(90.0,6.5),(91.0,5.5),(92.0,6.5),(93.0,7.5),(94.0,8.0),(95.0,8.5),(96.0,6.0),
(97.0,1.0),(98.0,0.7),(99.0,1.0),(100.0,0.7),(101.0,1.0),(102.0,0.5),(103.0,0.7),(104.0,1.0),(105.0,0.8),(106.0,1.2),
(107.0,0.7),(108.0,1.0),(109.0,1.5),(110.0,1.7),(111.0,2.0),(112.0,2.2),(113.0,2.5),(114.0,2.6),(115.0,2.3),(116.0,1.7),
(117.0,-1.3),(118.0,-2.0),(119.0,-3.0),(120.0,-3.5),(121.0,-4.2),(122.0,-1.3),(123.0,-2.0),(124.0,-3.2),(125.0,-11.0),
(126.0,-12.0),(127.0,-11.5),(128.0,-14.0),(129.0,-15.0),(130.0,-16.0),(131.0,-17.0),(132.0,-18.0),(133.0,-19.0),(134.5,-20.0),
(136.5,-13.0),(137.5,-14.0),(138.5,-15.0),(139.5,-14.0),(140.5,-10.0),(141.5,-8.0),(142.0,-9.0),(145.0,1.7),(146.0,0.5),
(147.0,-0.5),(148.0,-1.3),(149.0,0.0),(150.0,1.0),(151.0,1.5),(152.0,1.7),(153.0,2.0),(154.0,2.6),(155.0,2.0),(156.0,1.5),
(157.0,1.7),(158.0,2.0),(159.0,2.2),(160.0,1.7),(161.5,2.6),(162.5,3.0),(163.5,2.5),(165.0,1.7),(166.0,0.5),(167.0,-1.0),
(168.0,-2.0),(169.0,-3.2),(170.0,-2.0),(171.0,1.7),(172.0,2.6),(173.0,3.6),(174.0,4.6),(176.5,19.0),(177.5,18.5),(178.5,18.0),
(178.0,12.4),(179.0,10.0),(180.0,9.4),(181.0,8.5),(182.0,7.5),(183.0,7.0),(184.0,6.0),(185.0,5.5),(186.0,4.6),(187.0,2.6),
(188.0,2.0),(189.0,1.7),(190.0,1.0),(191.0,0.5),(192.0,0.7),(193.0,0.0),(194.0,0.5),(195.0,0.7),(196.0,1.0),(197.0,1.7),
(198.0,1.5),(199.0,2.0),(200.0,2.6),(201.0,2.0),(202.0,1.7),(203.0,2.0),(204.0,2.6),(205.0,3.0),(207.0,5.5),(208.0,4.5),
(209.0,4.0),(210.0,3.5),(211.0,3.0),(212.0,7.5),(213.0,4.0),(214.0,3.0),(215.0,2.6),(216.0,4.6),(217.0,3.5),(218.0,2.5),
(219.0,2.0),(220.0,1.7),(221.0,2.5),(222.0,11.4),(223.0,10.0),(224.0,8.0),(225.0,7.0),(226.0,6.0),(227.0,5.5),(228.5,12.4),
(229.5,13.5),(230.5,14.5),(231.5,15.3),(232.5,10.0),(233.5,9.0),(234.5,8.5),(235.5,4.6),(236.5,3.0),(237.5,2.0),(238.5,1.7),
(239.5,2.0),(241.0,-2.2),(242.0,-3.5),(243.0,-5.0),(244.0,-7.0),(245.0,-11.0),(246.0,-12.0),(245.7,-19.0),(247.7,-20.0),
]
res7 = [
(46.0,-0.3),(47.0,-1.0),(47.4,-18.8),(48.0,-2.0),(48.5,-13.4),(49.0,-3.2),(50.0,0.7),(51.0,-0.5),(52.0,-1.0),(53.0,-2.2),
(54.0,-1.5),(55.5,3.6),(56.5,3.0),(57.5,2.6),(59.7,7.5),(60.5,6.5),(61.6,5.5),(64.5,13.3),(65.5,12.5),(66.5,12.0),(67.5,11.4),
(68.3,13.0),(66.0,8.5),(67.0,7.5),(68.0,6.5),(72.0,12.4),(73.0,11.5),(74.0,11.0),(75.0,10.4),(75.5,1.7),(76.0,-1.0),(76.5,-3.2),
(77.0,2.6),(78.0,1.7),(79.0,1.0),(80.0,0.0),(81.0,-0.3),(84.5,-1.3),(85.0,-2.2),(86.0,-4.0),(87.0,-6.0),(88.0,-9.0),(89.0,-5.0),
(90.0,-6.1),(94.0,15.0),(95.0,13.5),(96.0,12.0),(97.0,19.0),(98.0,14.0),(99.0,12.0),(100.0,10.0),(101.0,9.4),(102.5,8.0),
(104.0,6.5),(105.0,16.0),(106.0,14.0),(107.0,13.0),(108.0,12.0),(109.0,11.0),(110.0,18.0),(111.0,17.5),(112.0,17.0),(113.0,17.5),
(114.0,13.0),(115.0,12.0),(116.0,11.0),(117.0,10.0),(118.5,9.4),(119.5,10.4),(120.5,9.0),(121.5,8.5),(121.0,15.0),(122.0,13.0),
(123.0,11.0),(124.0,20.0),(125.0,19.0),(126.5,18.0),(127.5,6.5),(128.5,5.0),(129.5,4.0),(130.5,3.0),(131.5,2.6),(132.0,9.4),
(133.0,8.0),(134.0,6.5),(135.0,5.5),(136.0,3.6),(137.0,3.0),(138.0,2.0),(139.0,4.6),(140.0,1.5),(141.0,1.0),(142.0,0.7),
(143.0,6.5),(144.0,9.4),(145.0,11.0),(146.0,12.0),(147.0,13.3),(148.0,15.0),(149.0,16.0),(150.0,8.5),(151.0,7.5),(152.0,7.0),
(153.0,6.5),(154.0,9.0),(155.0,10.0),(156.0,12.0),(157.0,13.5),(158.0,15.0),(159.0,19.0),(160.0,17.0),(161.0,16.0),(162.0,18.0),
(163.0,17.0),(164.0,16.5),(165.0,17.0),(169.0,15.0),(170.0,14.0),(171.0,12.0),(172.0,10.0),(173.0,9.0),(174.0,8.5),(175.0,7.5),
(176.0,6.5),(177.0,6.0),(178.0,5.5),(180.0,1.7),(181.0,0.5),(182.0,-1.0),(183.0,-2.2),(184.0,0.5),(185.0,2.0),(186.0,2.6),
(187.0,3.0),(188.0,3.6),(190.0,10.4),(191.0,9.0),(192.0,7.5),(193.0,6.0),(194.0,5.0),(195.0,4.6),(197.0,1.7),(198.0,3.0),
(199.0,4.0),(200.0,5.0),(201.0,4.0),(202.0,3.6),(203.0,4.6),(204.0,5.5),(205.0,5.0),(206.0,6.0),(207.0,6.5),(209.0,12.0),
(212.5,16.0),(213.5,15.0),(214.5,13.0),(215.5,11.4),(216.5,8.5),(217.5,7.0),(218.5,6.0),(219.5,5.0),(220.5,4.0),(221.5,3.6),
(222.5,2.6),(223.5,1.5),(224.5,0.5),(225.5,-0.5),(226.5,0.7),(227.5,1.0),(228.5,0.0),(229.5,-1.0),(230.0,-15.0),(231.0,1.0),
(232.0,2.0),(233.0,1.5),(234.0,0.5),(235.0,0.0),(236.0,-1.0),(237.0,-2.0),(238.0,-1.5),(239.0,-2.0),(241.0,-0.5),(242.5,-1.0),
(244.0,-1.5),(245.0,-2.0),(246.0,-2.2),(247.0,-7.5),(247.5,-8.0),
]
res5 = [
(38.8,-7.6),(39.3,-8.5),(39.8,-9.0),(41.7,-5.2),(42.5,-6.0),(43.5,-7.1),(44.5,-6.5),(45.5,4.6),(46.5,5.5),(47.5,6.0),(48.5,6.5),
(49.3,5.8),(51.0,9.9),(52.0,8.0),(55.5,9.4),(56.5,8.0),(57.5,6.5),(58.5,4.6),(56.0,15.8),(57.0,15.5),(60.0,15.3),(60.2,12.8),
(61.0,12.0),(64.5,7.5),(65.5,6.5),(66.5,15.3),(67.5,15.0),(68.3,15.3),(69.0,5.5),(70.0,8.5),(71.0,8.0),(72.0,7.5),(73.0,7.0),
(74.0,6.5),(76.0,1.7),(77.0,1.0),(78.0,0.0),(79.0,-1.3),(80.0,-1.5),(81.0,-2.5),(82.0,-3.5),(83.0,-4.5),(84.5,-6.1),(85.0,-8.0),
(86.0,-9.0),(87.0,-10.0),(88.0,-11.0),(89.0,-10.5),(90.0,3.6),(91.0,4.0),(92.0,4.5),(93.0,5.0),(94.0,5.5),(95.0,5.5),(96.0,6.5),
(97.0,6.0),(98.0,5.5),(99.0,5.0),(100.0,4.5),(101.0,4.0),(102.0,3.6),(100.6,11.4),(102.0,13.0),(103.0,14.0),(104.0,15.0),
(105.0,15.5),(106.0,16.0),(107.0,17.0),(108.0,18.0),(109.0,16.0),(110.0,15.0),(111.0,14.0),(112.0,13.0),(113.0,11.0),
(114.0,10.0),(115.0,9.0),(116.0,8.5),(117.0,7.5),(118.0,7.0),(119.0,6.0),(120.0,5.5),(121.0,9.4),(122.0,8.5),(123.0,8.0),
(124.0,14.0),(125.0,7.0),(126.0,6.5),(127.0,4.6),(128.0,4.0),(129.0,3.5),(130.0,3.0),(131.0,2.5),(132.0,2.0),(133.0,1.7),
(134.0,1.0),(135.0,0.5),(136.0,0.0),(137.0,-0.5),(138.0,-1.0),(139.0,-1.5),(140.0,-1.3),(141.0,-2.0),(142.0,-2.2),(143.0,-1.8),
(144.0,-0.3),(145.0,-1.0),(146.0,-1.5),(147.0,-2.2),(148.0,1.7),(149.0,2.2),(150.0,2.6),(151.0,3.0),(152.0,3.6),(153.0,4.0),
(154.0,4.6),(155.0,5.5),(156.0,6.0),(157.0,6.5),(158.0,8.5),(159.0,10.0),(160.0,11.0),(161.0,12.5),(162.0,14.3),(163.0,11.4),
(164.0,10.0),(165.0,9.0),(166.0,8.0),(167.0,7.0),(168.0,6.5),(169.0,6.0),(170.0,5.5),(171.0,4.6),(172.0,4.0),(173.0,3.6),
(174.0,3.0),(175.0,2.8),(176.0,2.6),(177.0,2.2),(178.0,1.7),(179.0,1.0),(180.0,0.0),(181.0,-0.5),(182.0,-1.3),(183.0,-6.0),
(184.0,-7.0),(185.0,-8.0),(186.0,-10.0),(187.0,-14.0),(188.0,-15.0),(189.0,-16.0),(190.0,-17.0),(189.5,-6.0),(191.0,-5.0),
(192.0,-5.5),(193.0,-6.0),(194.0,-5.0),(197.0,-10.0),(198.0,-12.0),(199.0,-14.0),(200.0,-19.0),(201.0,-15.0),(203.0,-6.0),
(204.0,-7.0),(205.0,-8.0),(206.0,-9.0),(207.0,-10.0),(208.0,-8.0),(209.0,-7.0),(210.0,-6.0),(211.0,-5.0),(212.0,-4.5),
(213.0,-4.0),(214.0,-3.5),(216.0,-1.3),(217.0,-2.0),(218.0,-3.2),(219.0,-9.0),(220.0,-2.5),(221.0,-2.0),(222.0,-1.5),
(223.0,-7.0),(224.0,-3.0),(225.0,-2.0),(226.0,-2.5),(230.0,-4.0),(231.0,-14.0),(232.0,-6.0),(233.0,-16.0),(234.0,-8.0),
(235.0,-17.0),(236.0,-10.0),(237.0,-5.0),(238.0,-6.0),(239.0,-7.0),(240.0,-8.0),(241.0,-9.0),(242.0,-10.0),(243.0,-8.5),
(244.0,-7.0),(245.0,-6.5),(246.0,-7.0),(247.0,-8.0),
]

# ---------------- styling ----------------
FONT = "DejaVu Sans"
SPINE = "#555555"
COL_230, COL_220 = "#bf00bf", "#00bfbf"
COL_26, COL_21, COL_7, COL_5 = "#0000ff", "#ff0000", "#008000", "#bfbf00"
LEG_COLORS = ["#ff44f5", "#1ee8ff", "#0033ff", "#ff2200", "#008a00", "#ffdd00"]

x_minor = [m for m in range(0, 271, 3) if m % 15]
x_overrides = {t: lab for t, lab in zip(x_tick_pos, x_tick_labels)}


def cols(rows):
    return [list(c) for c in zip(*rows)]


def style_axis(ax, ticker, show_labels):
    ax.ticker = ticker
    ax.axis_line_color = SPINE
    ax.axis_line_width = 1.5
    ax.major_tick_in = 8
    ax.major_tick_out = 0
    ax.minor_tick_in = 4
    ax.minor_tick_out = 0
    ax.major_tick_line_color = "#333333"
    ax.minor_tick_line_color = "#333333"
    ax.major_label_text_font = FONT
    ax.major_label_text_color = "#111111"
    ax.axis_label_text_font = FONT
    ax.axis_label_text_font_style = "normal"
    ax.axis_label_text_font_size = "23px"
    ax.axis_label_text_color = "#111111"
    if show_labels:
        ax.major_label_text_font_size = "19px"
        ax.major_label_standoff = 4
    else:
        # tick marks only: no labels are drawn and no room is reserved
        ax.major_label_text_font_size = "0px"
        ax.major_label_standoff = 0
        ax.major_label_policy = CustomLabelingPolicy(code="return []")


def add_frame_axes(fig, xt, yt):
    top = LinearAxis()
    right = LinearAxis()
    fig.add_layout(top, "above")
    fig.add_layout(right, "right")
    style_axis(top, xt, False)
    style_axis(right, yt, False)


# ---------------- main panel ----------------
p = figure(width=1067, height=712, x_range=Range1d(0, 270), y_range=Range1d(0, 6000),
           output_backend="svg", toolbar_location=None,
           min_border_left=88, min_border_right=1, min_border_top=15, min_border_bottom=10)
p.grid.visible = False
p.outline_line_color = SPINE
p.outline_line_width = 1.5
p.background_fill_color = "white"
p.border_fill_color = "white"

style_axis(p.xaxis[0], FixedTicker(ticks=x_tick_pos, minor_ticks=x_minor), False)
style_axis(p.yaxis[0], FixedTicker(ticks=flux_ticks, minor_ticks=flux_minor), True)
p.yaxis[0].axis_label = "Flux Density (mJy)"
p.yaxis[0].axis_label_standoff = 7
add_frame_axes(p, FixedTicker(ticks=x_tick_pos, minor_ticks=x_minor),
               FixedTicker(ticks=flux_ticks, minor_ticks=flux_minor))

# error bars
for rows, c in ((sma230_err, COL_230), (sma220_err, COL_220)):
    et, ey, ee = cols(rows)
    p.segment(x0=et, x1=et, y0=[a - b for a, b in zip(ey, ee)], y1=[a + b for a, b in zip(ey, ee)],
              line_color=c, line_width=1.5)

for rows, c in ((sma230, COL_230), (sma220, COL_220), (vla26, COL_26), (vla21, COL_21), (vla7, COL_7), (vla5, COL_5)):
    tt, ff = cols(rows)
    p.scatter(tt, ff, size=9, fill_color=c, line_color=c, line_width=0.5)

ft, f230, f220 = cols(sma_fit)
p.line(ft, f230, line_color="black", line_width=3.5)
p.line(ft, f220, line_color="black", line_width=3.0)
vt, v26, v21, v7, v5 = cols(vla_fit)
for vv in (v26, v21, v7, v5):
    p.line(vt, vv, line_color="black", line_width=2.5)

# legend-only renderers (a single NaN point: nothing is drawn in the plot area)
nan = float("nan")
dummies = [p.line(x=[nan], y=[nan], line_color=c, line_width=11) for c in LEG_COLORS]
legend = Legend(items=[LegendItem(label=lab, renderers=[d]) for lab, d in zip(legend_labels, dummies)],
                location=(639, 346), label_text_font="Liberation Sans", label_text_font_size="43px",
                label_text_color="black", glyph_width=50, glyph_height=14, label_standoff=7,
                spacing=7, padding=0, margin=0, border_line_color=None, background_fill_alpha=0)
p.add_layout(legend)

# ---------------- residual panel ----------------
rp = figure(width=1067, height=235, x_range=p.x_range, y_range=Range1d(-20, 20),
            output_backend="svg", toolbar_location=None,
            min_border_left=88, min_border_right=1, min_border_top=10, min_border_bottom=87)
rp.grid.visible = False
rp.outline_line_color = SPINE
rp.outline_line_width = 1.5
rp.background_fill_color = "white"
rp.border_fill_color = "white"

style_axis(rp.xaxis[0], FixedTicker(ticks=x_tick_pos, minor_ticks=x_minor), True)
style_axis(rp.yaxis[0], FixedTicker(ticks=res_ticks, minor_ticks=[]), True)
rp.xaxis[0].major_label_overrides = x_overrides
rp.xaxis[0].major_label_orientation = math.pi / 4
rp.xaxis[0].major_label_standoff = 2
rp.xaxis[0].axis_label = "Time on 2015/06/22 (HH:MM)"
rp.xaxis[0].axis_label_standoff = 0
rp.yaxis[0].major_label_overrides = {v: s for v, s in zip(res_ticks, res_tick_labels)}
rp.yaxis[0].axis_label = "Residual"
rp.yaxis[0].axis_label_standoff = 6
add_frame_axes(rp, FixedTicker(ticks=x_tick_pos, minor_ticks=x_minor), FixedTicker(ticks=res_ticks, minor_ticks=[]))

for rows, c in ((res230, COL_230), (res220, COL_220), (res26, COL_26), (res21, COL_21), (res7, COL_7), (res5, COL_5)):
    tt, rr = cols(rows)
    rp.scatter(tt, rr, size=7, fill_color=c, line_color=c, line_width=0.5)

inner = column(p, rp, styles={"border-left": "7px solid #008a55"})
page = column(inner, styles={"border-left": "2px solid #111111", "border-top": "5px solid #008a55"})

open("out.html", "w").write(file_html(page, INLINE))
